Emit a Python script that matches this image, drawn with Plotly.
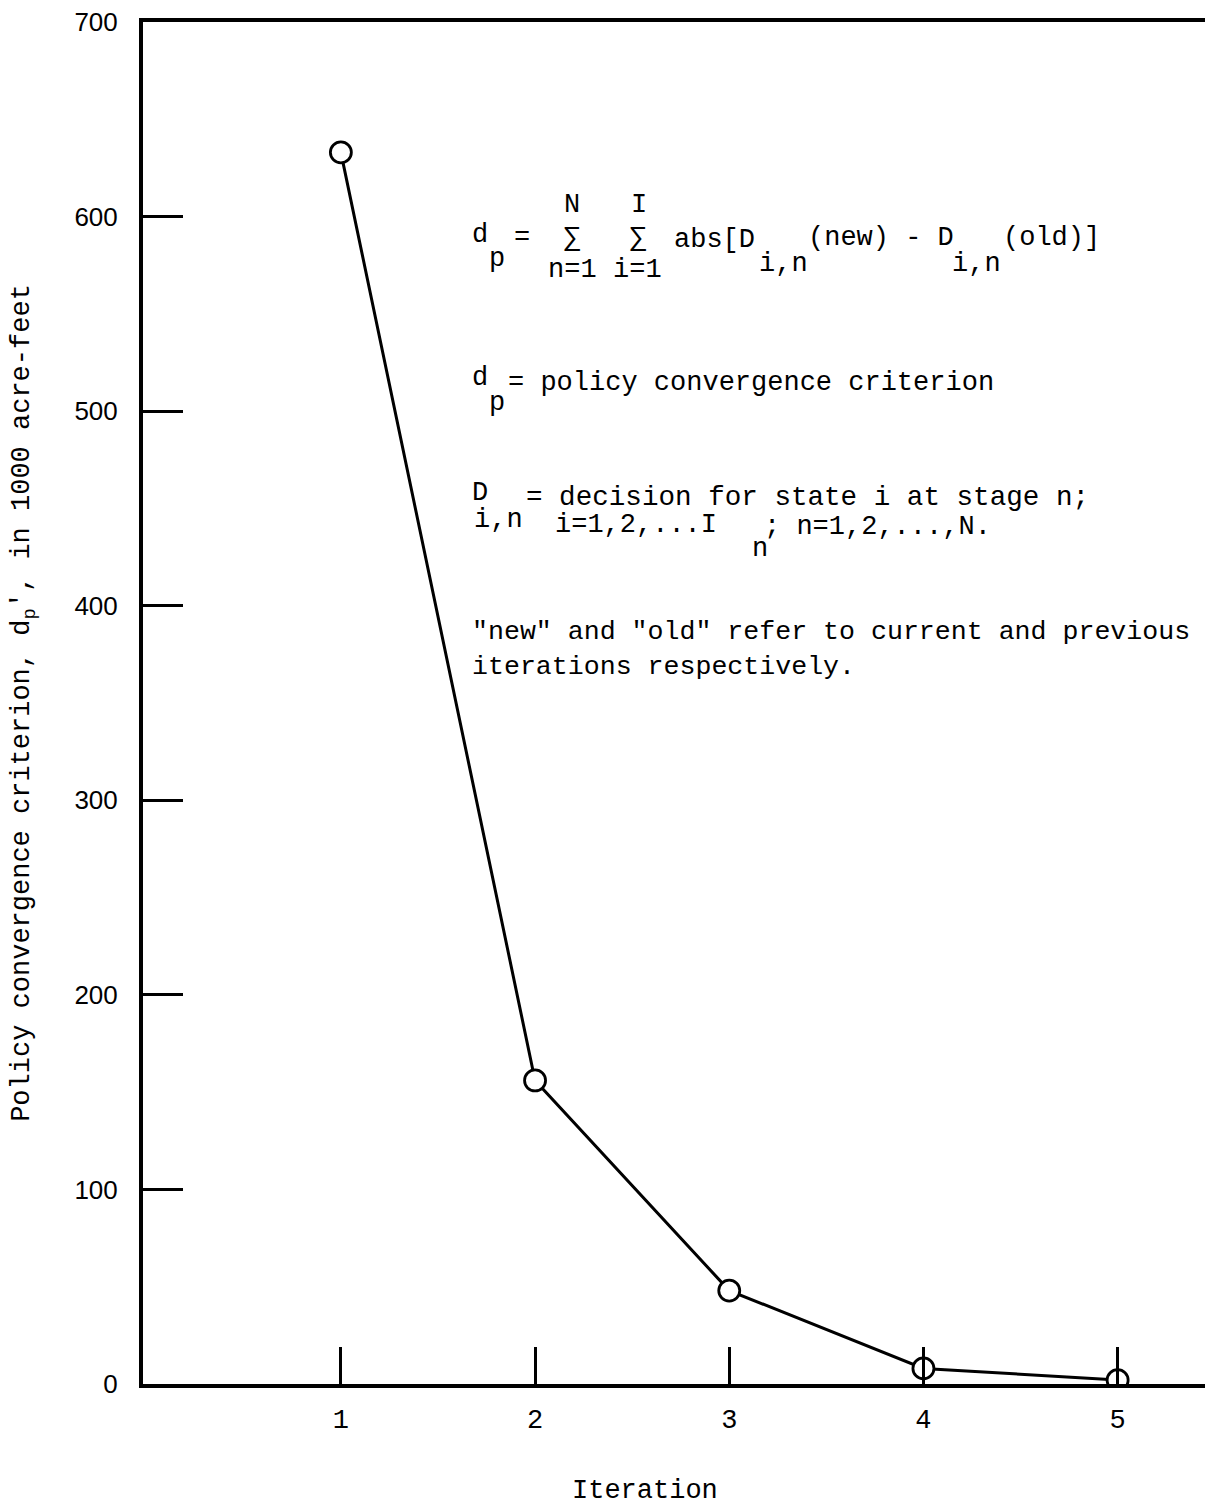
import plotly.graph_objects as go

iterations = [1, 2, 3, 4, 5]
dp_values = [633, 156, 48, 8, 2]
y_ticks = [0, 100, 200, 300, 400, 500, 600, 700]
x_ticks = [1, 2, 3, 4, 5]

W, H = 1205, 1505
L, R, T, B = 143, 0, 22, 121
MONO = "Liberation Mono"
FS = 27

def px(x):
    return (x - L) / (W - L - R)

def py(y):
    return (H - B - y) / (H - B - T)

fig = go.Figure()
fig.add_trace(go.Scatter(
    x=iterations, y=dp_values, mode="lines+markers",
    line=dict(color="black", width=3),
    marker=dict(size=21, color="white", line=dict(color="black", width=2.8)),
    showlegend=False,
))

anns = []
def txt(s, x, y, anchor="left", size=FS):
    anns.append(dict(text=s, x=px(x), y=py(y), xref="paper", yref="paper",
                     xanchor=anchor, yanchor="middle", showarrow=False,
                     font=dict(family=MONO, size=size, color="black")))

# equation line
txt("d", 470, 235)
txt("p", 487, 259)
txt("=", 512, 238)
txt("N", 572, 205, "center")
txt("\u2211", 572, 238, "center")
txt("n=1", 572, 270, "center")
txt("I", 639, 205, "center")
txt("\u2211", 638, 238, "center")
txt("i=1", 637, 270, "center")
txt("abs[D", 672, 240)
txt("i,n", 757, 264)
txt("(new) - D", 806, 238)
txt("i,n", 950, 264)
txt("(old)]", 1001, 238)

# definition lines
txt("d", 470, 378)
txt("p", 487, 403)
txt("= policy convergence criterion", 506, 383)

txt("D", 470, 493)
txt("i,n", 472, 520)
txt("= decision for state i at stage n;", 524, 497, size=27.6)
txt("i=1,2,...I", 553, 525)
txt("n", 750, 549)
txt("; n=1,2,...,N.", 762, 527)

txt("\"new\" and \"old\" refer to current and previous", 470, 632, size=26.6)
txt("iterations respectively.", 470, 667, size=26.6)

# x-axis title
txt("Iteration", 645, 1491, "center")

fig.update_layout(
    width=W, height=H,
    margin=dict(l=L, r=R, t=T, b=B),
    paper_bgcolor="white", plot_bgcolor="white",
    annotations=anns,
    xaxis=dict(
        range=[-0.019, 5.45], tickvals=x_ticks, ticktext=[str(v) for v in x_ticks],
        ticks="inside", ticklen=37, tickwidth=3, tickcolor="black",
        showline=True, linecolor="black", linewidth=4, mirror=True,
        showgrid=False, zeroline=False,
        tickfont=dict(family=MONO, size=FS, color="black"),
        ticklabelstandoff=8,
    ),
    yaxis=dict(
        range=[0, 700], tickvals=y_ticks, ticktext=[str(v) for v in y_ticks],
        ticks="inside", ticklen=40, tickwidth=3, tickcolor="black",
        showline=True, linecolor="black", linewidth=4, mirror=False,
        showgrid=False, zeroline=False,
        tickfont=dict(family="Liberation Sans", size=26, color="black"),
        ticklabelstandoff=16,
        title=dict(text="Policy convergence criterion, d<sub>p</sub>', in 1000 acre-feet",
                   font=dict(family=MONO, size=FS, color="black"), standoff=38),
    ),
)

fig.write_html("out.html")
